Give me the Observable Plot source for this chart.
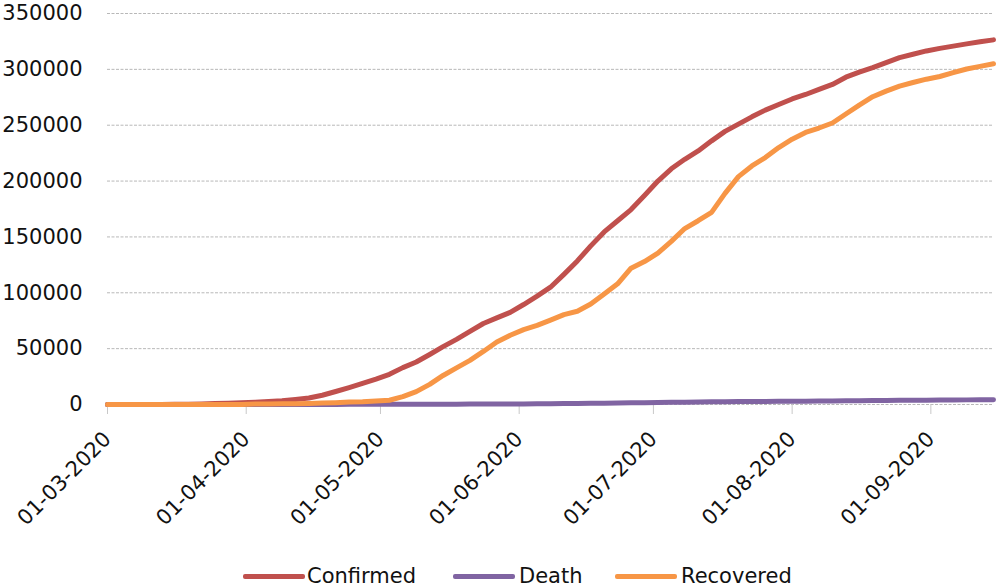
<!DOCTYPE html>
<html><head><meta charset="utf-8">
<script src="https://cdn.jsdelivr.net/npm/d3@7"></script>
<script src="https://cdn.jsdelivr.net/npm/@observablehq/plot@0.6"></script>
<style>
body{margin:0;background:#fff;}
#wrap{position:relative;width:1000px;height:588px;font-family:"DejaVu Sans",sans-serif;overflow:hidden;}
#legend{position:absolute;left:0;top:552px;width:1000px;height:36px;}
.sw{position:absolute;top:22px;height:5px;width:62px;border-radius:2px;}
.lt{position:absolute;top:14px;font-size:21px;line-height:1;color:#111;white-space:nowrap;}
</style></head>
<body><div id="wrap"><div id="chart"></div><div id="legend"></div></div>
<script>
const dates = ["2020-03-01","2020-03-04","2020-03-07","2020-03-10","2020-03-13","2020-03-16","2020-03-19","2020-03-22","2020-03-25","2020-03-28","2020-03-31",
"2020-04-03","2020-04-06","2020-04-09","2020-04-12","2020-04-15","2020-04-18","2020-04-21","2020-04-24","2020-04-27","2020-04-30",
"2020-05-03","2020-05-06","2020-05-09","2020-05-12","2020-05-15","2020-05-18","2020-05-21","2020-05-24","2020-05-27","2020-05-30",
"2020-06-02","2020-06-05","2020-06-08","2020-06-11","2020-06-14","2020-06-17","2020-06-20","2020-06-23","2020-06-26","2020-06-29",
"2020-07-02","2020-07-05","2020-07-08","2020-07-11","2020-07-14","2020-07-17","2020-07-20","2020-07-23","2020-07-26","2020-07-29",
"2020-08-01","2020-08-04","2020-08-07","2020-08-10","2020-08-13","2020-08-16","2020-08-19","2020-08-22","2020-08-25","2020-08-28","2020-08-31",
"2020-09-03","2020-09-06","2020-09-09","2020-09-12","2020-09-15"];

const confirmed = [0,1,5,20,62,118,274,511,900,1203,1563,
2039,2605,3287,4462,5862,8274,11631,15102,18811,22753,
27011,33000,38000,44800,51800,58300,65500,72500,77500,82500,
89500,97000,105000,116500,128500,142000,154500,164500,174500,187000,
200000,211000,219500,227000,236000,244500,251000,257500,263500,268500,
273500,277500,282000,286500,293000,297500,301500,306000,310500,313500,316500,
318800,320800,322800,324700,326400];

const death = [0,0,0,0,0,0,0,0,3,8,10,
25,38,47,59,79,92,109,127,144,162,
184,209,239,273,302,320,351,399,441,480,
549,642,746,857,972,1091,1230,1346,1474,1599,
1752,1916,2059,2223,2370,2486,2601,2703,2789,2866,
2949,3020,3100,3200,3303,3400,3503,3600,3710,3803,3890,
3980,4070,4140,4210,4268];

const recovered = [0,0,0,0,1,6,8,16,29,37,49,
351,551,631,761,931,1329,1640,2215,2531,3163,
3800,7000,11500,18000,26000,32800,39500,47500,56000,62000,
67000,70800,75500,80500,83500,90000,99000,108000,122000,128000,
135500,146000,157500,164500,172000,189000,204000,213500,221000,230000,
237500,243500,247500,252000,260000,268000,275500,280500,285000,288200,291200,
293600,297000,300300,302700,305000];

const seriesNames = ["Confirmed","Death","Recovered"];
const seriesColors = ["#C0504D","#8064A2","#F79646"];
const yTicks = [0,50000,100000,150000,200000,250000,300000,350000];
const xTickLabels = ["2020-03-01","2020-04-01","2020-05-01","2020-06-01","2020-07-01","2020-08-01","2020-09-01"];

const parse = d3.utcParse("%Y-%m-%d");
const seriesValues = [confirmed, death, recovered];
const tables = seriesValues.map((vals, k) => dates.map((d, i) => ({date: parse(d), value: vals[i], series: seriesNames[k]})));

const chart = Plot.plot({
  width: 1000, height: 552,
  marginLeft: 107, marginRight: 7, marginTop: 13, marginBottom: 148,
  style: {fontFamily: "DejaVu Sans, sans-serif", fontSize: "21px", background: "#fff", color: "#111"},
  x: {type: "utc", domain: [parse("2020-03-01"), parse("2020-09-15")]},
  y: {domain: [0, 350000]},
  color: {domain: seriesNames, range: seriesColors},
  marks: [
    Plot.gridY({ticks: yTicks, stroke: "#b8b8b8", strokeOpacity: 1, strokeDasharray: "3,1.5"}),
    Plot.axisY({ticks: yTicks, tickSize: 0, tickPadding: 25, tickFormat: d => String(d), label: null}),
    Plot.axisX({ticks: xTickLabels.map(parse), tickSize: 10, stroke: "#c8c8c8", tickRotate: -45, tickPadding: 21, tickFormat: d3.utcFormat("%d-%m-%Y"), label: null}),
    ...tables.map(t => Plot.lineY(t, {x: "date", y: "value", stroke: "series", strokeWidth: 5, strokeLinecap: "round", strokeLinejoin: "round"}))
  ]
});
document.getElementById("chart").appendChild(chart);

const legend = document.getElementById("legend");
const swLeft = [243, 453, 615];
const txLeft = [307, 519, 681];
seriesNames.forEach((n, i) => {
  const s = document.createElement("div");
  s.className = "sw"; s.style.left = swLeft[i] + "px"; s.style.background = seriesColors[i];
  legend.appendChild(s);
  const t = document.createElement("div");
  t.className = "lt"; t.style.left = txLeft[i] + "px"; t.textContent = n;
  legend.appendChild(t);
});
</script></body></html>
